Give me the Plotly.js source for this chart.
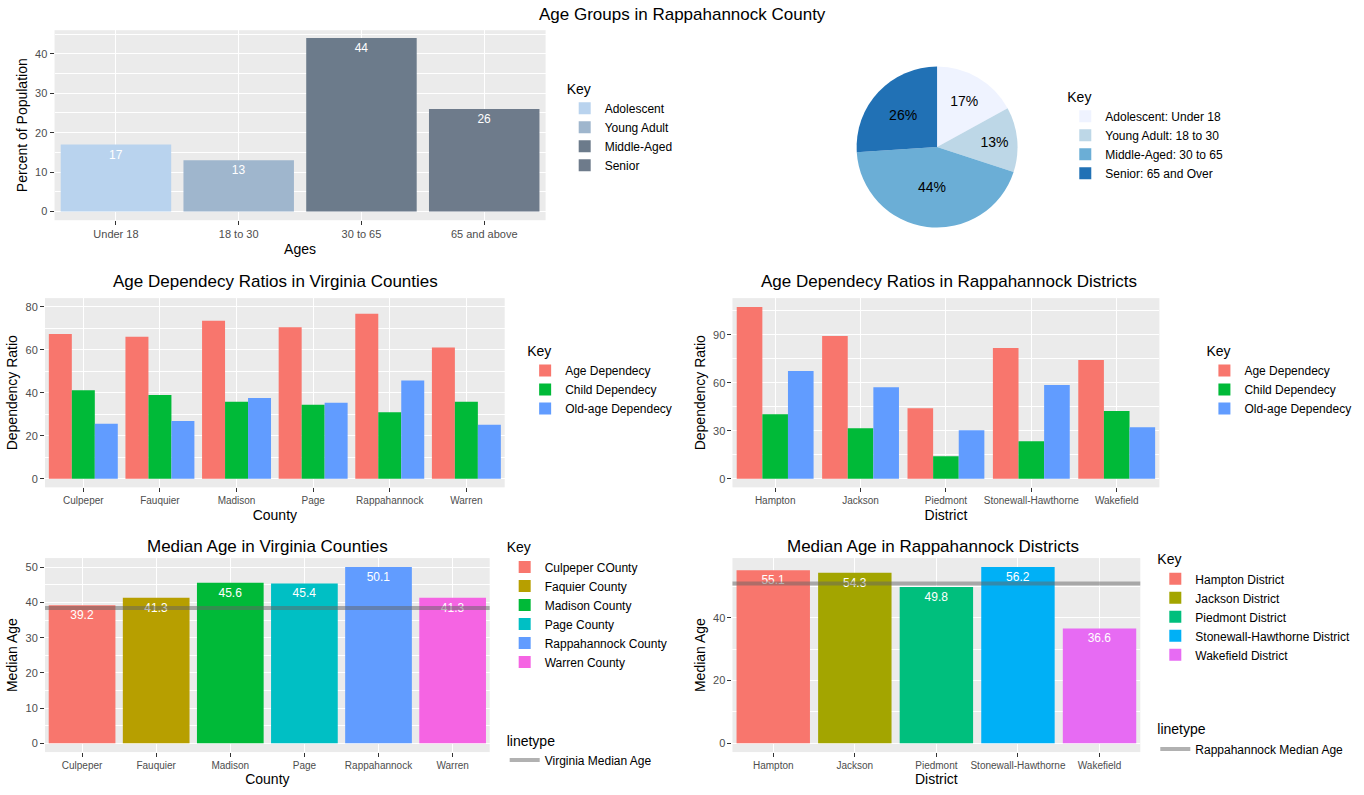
<!DOCTYPE html>
<html><head><meta charset="utf-8">
<script src="https://cdn.plot.ly/plotly-3.0.1.min.js"></script>
<style>body{margin:0}#p{width:1364px;height:795px}</style></head>
<body><div id="p"></div>
<script>
var ageCats = ['Under 18','18 to 30','30 to 65','65 and above'];
var ageKeys = ['Adolescent','Young Adult','Middle-Aged','Senior'];
var agePct = [17, 13, 44, 26];
var ageColors = ['#b9d3ee','#9fb6cd','#6c7b8b','#6e7b8b'];

var pieLabels = ['Adolescent: Under 18','Young Adult: 18 to 30','Middle-Aged: 30 to 65','Senior: 65 and Over'];
var pieColors = ['#eff3ff','#bdd7e7','#6baed6','#2171b5'];

var counties = ['Culpeper','Fauquier','Madison','Page','Rappahannock','Warren'];
var cAge = [67.3, 66.0, 73.5, 70.4, 76.7, 61.0];
var cChild = [41.2, 38.9, 35.8, 34.4, 30.9, 35.8];
var cOld = [25.6, 26.9, 37.6, 35.4, 45.7, 25.1];

var districts = ['Hampton','Jackson','Piedmont','Stonewall-Hawthorne','Wakefield'];
var dAge = [107.5, 89.3, 44.1, 81.8, 74.3];
var dChild = [40.4, 31.6, 14.0, 23.4, 42.3];
var dOld = [67.4, 57.3, 30.3, 58.6, 32.2];

var countyKeys = ['Culpeper COunty','Faquier County','Madison County','Page County','Rappahannock County','Warren County'];
var countyMedian = [39.2, 41.3, 45.6, 45.4, 50.1, 41.3];
var virginiaMedian = 38.4;
var districtKeys = ['Hampton District','Jackson District','Piedmont District','Stonewall-Hawthorne District','Wakefield District'];
var districtMedian = [55.1, 54.3, 49.8, 56.2, 36.6];
var rappMedian = 50.9;

var hue6 = ['#f8766d','#b79f00','#00ba38','#00bfc4','#619cff','#f564e3'];
var hue5 = ['#f8766d','#a3a500','#00bf7d','#00b0f6','#e76bf3'];
var depKeys = ['Age Dependecy','Child Dependecy','Old-age Dependecy'];
var depColors = ['#f8766d','#00ba38','#619cff'];

var traces = [];
ageCats.forEach(function(c,i){
  traces.push({type:'bar',x:[c],y:[agePct[i]],name:ageKeys[i],marker:{color:ageColors[i]},
    offsetgroup:'a',width:0.9,text:[String(agePct[i])],textposition:'inside',insidetextanchor:'end',
    textfont:{color:'white',size:12},xaxis:'x',yaxis:'y',legend:'legend',hoverinfo:'none'});
});
traces.push({type:'pie',labels:pieLabels,values:agePct,sort:false,direction:'clockwise',rotation:0,
  marker:{colors:pieColors},texttemplate:'%{value}%',textfont:{color:'black',size:14},
  domain:{x:[0.628,0.746],y:[0.71,0.92]},legend:'legend2',hoverinfo:'none'});
[cAge,cChild,cOld].forEach(function(v,i){
  traces.push({type:'bar',x:counties,y:v,name:depKeys[i],marker:{color:depColors[i]},xaxis:'x3',yaxis:'y3',legend:'legend3',hoverinfo:'none'});
});
[dAge,dChild,dOld].forEach(function(v,i){
  traces.push({type:'bar',x:districts,y:v,name:depKeys[i],marker:{color:depColors[i]},xaxis:'x4',yaxis:'y4',legend:'legend4',hoverinfo:'none'});
});
counties.forEach(function(c,i){
  traces.push({type:'bar',x:[c],y:[countyMedian[i]],name:countyKeys[i],marker:{color:hue6[i]},offsetgroup:'m',width:0.9,
    text:[countyMedian[i].toFixed(1)],textposition:'inside',insidetextanchor:'end',textfont:{color:'white',size:12},
    xaxis:'x5',yaxis:'y5',legend:'legend5',hoverinfo:'none'});
});
districts.forEach(function(c,i){
  traces.push({type:'bar',x:[c],y:[districtMedian[i]],name:districtKeys[i],marker:{color:hue5[i]},offsetgroup:'d',width:0.9,
    text:[districtMedian[i].toFixed(1)],textposition:'inside',insidetextanchor:'end',textfont:{color:'white',size:12},
    xaxis:'x6',yaxis:'y6',legend:'legend6',hoverinfo:'none'});
});

var tf = {family:'Liberation Sans, Arial',size:11,color:'#4d4d4d'};
function ax(dom, anchor, title, extra){
  var a = {domain:dom,anchor:anchor,showgrid:true,gridcolor:'white',gridwidth:1.2,zeroline:false,
    ticks:'outside',ticklen:4,tickcolor:'#333',tickfont:tf,showline:false,automargin:false,
    title:{text:title,font:{size:14,color:'black'},standoff:4}};
  for (var k in extra) a[k]=extra[k];
  return a;
}
function minor(d){ return {dtick:d,showgrid:true,gridcolor:'white',gridwidth:0.5}; }
function leg(x,y,title){
  return {x:x,y:y,xanchor:'left',yanchor:'top',title:{text:title,font:{size:14}},bgcolor:'rgba(0,0,0,0)',
    font:{size:12,color:'black'},tracegroupgap:0,itemwidth:30};
}
function ttl(text,x,y){
  return {text:text,x:x,y:y,xref:'paper',yref:'paper',xanchor:'center',yanchor:'middle',showarrow:false,font:{size:17}};
}
var layout = {
  width:1364,height:795,margin:{l:0,r:0,t:0,b:0},paper_bgcolor:'white',plot_bgcolor:'#ebebeb',
  font:{family:'Liberation Sans, Arial',color:'black'},barmode:'group',bargap:0.1,bargroupgap:0,
  xaxis:ax([0.040,0.400],'y','Ages',{}),
  yaxis:ax([0.723,0.962],'x','Percent of Population',{range:[-2.2,46],dtick:10,minor:minor(5)}),
  xaxis3:ax([0.033,0.370],'y3','County',{tickfont:{size:10,color:'#4d4d4d'}}),
  yaxis3:ax([0.387,0.625],'x3','Dependency Ratio',{range:[-4,84],dtick:20,minor:minor(10)}),
  xaxis4:ax([0.537,0.850],'y4','District',{tickfont:{size:10,color:'#4d4d4d'}}),
  yaxis4:ax([0.387,0.625],'x4','Dependency Ratio',{range:[-5.4,113],dtick:30,minor:minor(15)}),
  xaxis5:ax([0.033,0.359],'y5','County',{tickfont:{size:10,color:'#4d4d4d'}}),
  yaxis5:ax([0.054,0.298],'x5','Median Age',{range:[-2.5,52.6],dtick:10,minor:minor(5)}),
  xaxis6:ax([0.537,0.836],'y6','District',{tickfont:{size:10,color:'#4d4d4d'}}),
  yaxis6:ax([0.054,0.298],'x6','Median Age',{range:[-2.8,59],dtick:20,minor:minor(10)}),
  legend:leg(0.414,0.905,'Key'),
  legend2:leg(0.781,0.895,'Key'),
  legend3:leg(0.385,0.575,'Key'),
  legend4:leg(0.883,0.575,'Key'),
  legend5:leg(0.370,0.328,'Key'),
  legend6:leg(0.847,0.313,'Key'),
  legend7:leg(0.370,0.085,'linetype'),
  legend8:leg(0.847,0.099,'linetype'),
  shapes:[
    {type:'line',xref:'x5 domain',yref:'y5',x0:0,x1:1,y0:virginiaMedian,y1:virginiaMedian,
      line:{color:'rgba(100,100,100,0.5)',width:4},showlegend:true,name:'Virginia Median Age',legend:'legend7'},
    {type:'line',xref:'x6 domain',yref:'y6',x0:0,x1:1,y0:rappMedian,y1:rappMedian,
      line:{color:'rgba(100,100,100,0.5)',width:4},showlegend:true,name:'Rappahannock Median Age',legend:'legend8'}
  ],
  annotations:[
    ttl('Age Groups in Rappahannock County',0.5,0.982),
    ttl('Age Dependecy Ratios in Virginia Counties',0.202,0.646),
    ttl('Age Dependecy Ratios in Rappahannock Districts',0.696,0.646),
    ttl('Median Age in Virginia Counties',0.196,0.313),
    ttl('Median Age in Rappahannock Districts',0.684,0.313)
  ]
};
Plotly.newPlot('p',traces,layout,{displayModeBar:false});
</script></body></html>
